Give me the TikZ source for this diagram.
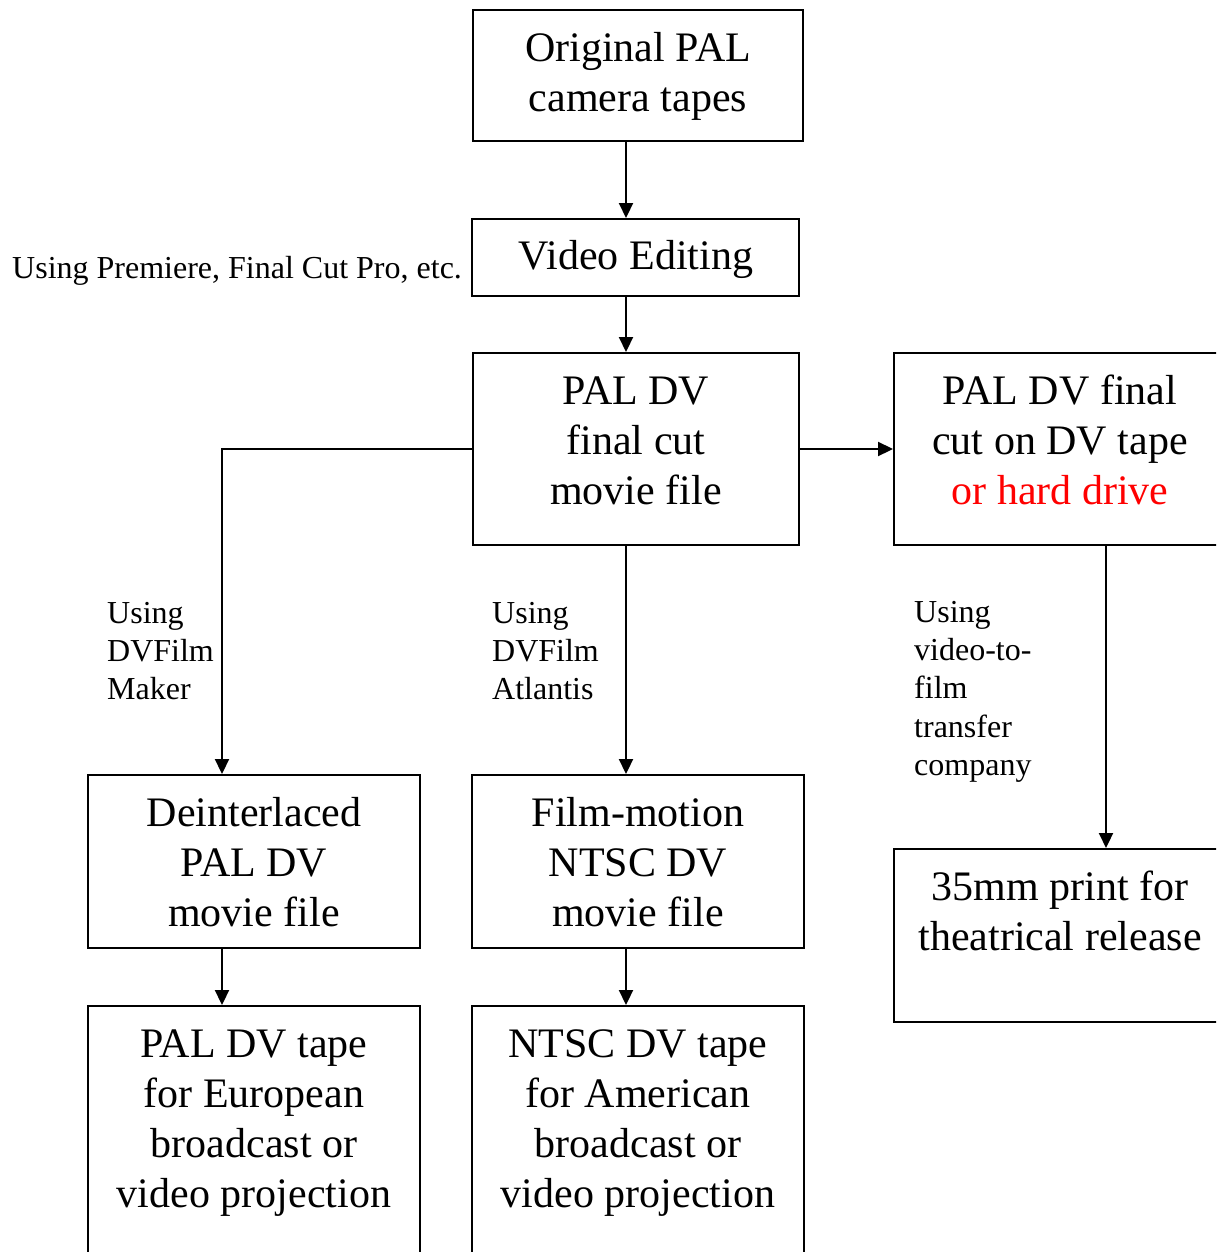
\documentclass[tikz,border=0pt]{standalone}
\usepackage{fontspec}
\setmainfont{Liberation Serif}
\usetikzlibrary{arrows.meta,fit}
% fixed-height strut so a text block's top sits a known distance above its first baseline
\newcommand\topstrut{\rule{0pt}{40pt}}
\begin{document}
\begin{tikzpicture}[x=1pt,y=-1pt,
  box/.style={draw, line width=2pt, inner sep=0pt},
  boxtext/.style={anchor=north, inner sep=0pt, align=center, font=\fontsize{42}{50}\selectfont},
  note/.style={anchor=north west, inner sep=0pt, align=left, font=\fontsize{32}{38.3}\selectfont},
  flow/.style={line width=2.2pt, -{Triangle[length=15pt,width=14pt]}}]
\useasboundingbox (0,0) rectangle (1216,1252);
\begin{scope}
\clip (0,0) rectangle (1216,1252);

% columns used by the connectors
\coordinate (lcol) at (222,0);
\coordinate (mcol) at (626,0);
\coordinate (rcol) at (1106,0);

% boxes
\node[box, fit={(473,10) (803,141)}] (b1) {};
\node[box, fit={(472,219) (799,296)}] (b2) {};
\node[box, fit={(473,353) (799,545)}] (b3) {};
\node[box, fit={(894,353) (1230,545)}] (b4) {};
\node[box, fit={(88,775) (420,948)}] (b5) {};
\node[box, fit={(472,775) (804,948)}] (b6) {};
\node[box, fit={(894,849) (1230,1022)}] (b7) {};
\node[box, fit={(88,1006) (420,1270)}] (b8) {};
\node[box, fit={(472,1006) (804,1270)}] (b9) {};

% box texts (first baseline 40pt below the anchor)
\node[boxtext] (t1) at (638,21) {\topstrut Original PAL\\camera tapes};
\node[boxtext] (t2) at (636,229) {\topstrut Video Editing};
\node[boxtext] (t3) at (636,364) {\topstrut PAL DV\\final cut\\movie file};
\node[boxtext] (t4) at (1060,364) {\topstrut PAL DV final\\cut on DV tape\\{\color{red}or hard drive}};
\node[boxtext] (t5) at (254,786) {\topstrut Deinterlaced\\PAL DV\\movie file};
\node[boxtext] (t6) at (638,786) {\topstrut Film-motion\\NTSC DV\\movie file};
\node[boxtext] (t7) at (1060,860) {\topstrut 35mm print for\\theatrical release};
\node[boxtext] (t8) at (254,1017) {\topstrut PAL DV tape\\for European\\broadcast or\\video projection};
\node[boxtext] (t9) at (638,1017) {\topstrut NTSC DV tape\\for American\\broadcast or\\video projection};

% side notes
\node[note] (n1) at (12,238) {\topstrut Using Premiere, Final Cut Pro, etc.};
\node[note] (n2) at (107,583) {\topstrut Using\\DVFilm\\Maker};
\node[note] (n3) at (492,583) {\topstrut Using\\DVFilm\\Atlantis};
\node[note] (n4) at (914,582) {\topstrut Using\\video-to-\\film\\transfer\\company};

% connectors
\draw[flow] (b1.south -| mcol) -- (b2.north -| mcol);
\draw[flow] (b2.south -| mcol) -- (b3.north -| mcol);
\draw[flow] (b3.west) -| (b5.north -| lcol);
\draw[flow] (b3.south -| mcol) -- (b6.north -| mcol);
\draw[flow] (b3.east) -- (b4.west);
\draw[flow] (b4.south -| rcol) -- (b7.north -| rcol);
\draw[flow] (b5.south -| lcol) -- (b8.north -| lcol);
\draw[flow] (b6.south -| mcol) -- (b9.north -| mcol);
\end{scope}
\end{tikzpicture}
\end{document}
